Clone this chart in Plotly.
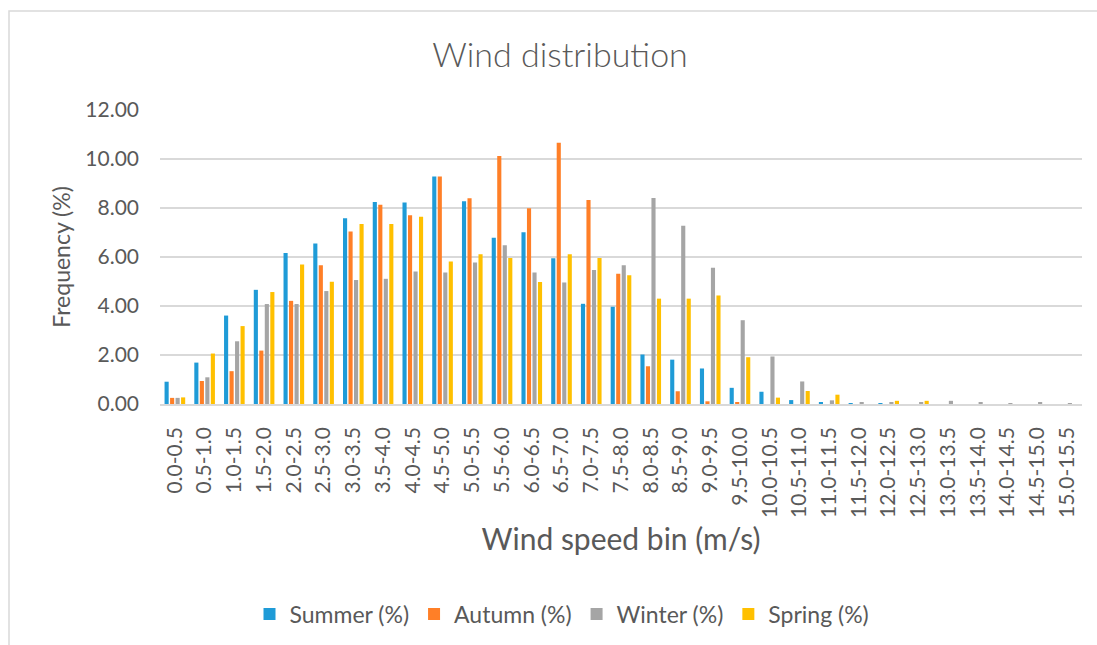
import plotly.graph_objects as go

# Wind speed bins (m/s)
bins = ["0.0-0.5", "0.5-1.0", "1.0-1.5", "1.5-2.0", "2.0-2.5", "2.5-3.0", "3.0-3.5",
        "3.5-4.0", "4.0-4.5", "4.5-5.0", "5.0-5.5", "5.5-6.0", "6.0-6.5", "6.5-7.0",
        "7.0-7.5", "7.5-8.0", "8.0-8.5", "8.5-9.0", "9.0-9.5", "9.5-10.0", "10.0-10.5",
        "10.5-11.0", "11.0-11.5", "11.5-12.0", "12.0-12.5", "12.5-13.0", "13.0-13.5",
        "13.5-14.0", "14.0-14.5", "14.5-15.0", "15.0-15.5"]

# Seasonal frequency of each bin (%)
summer = [0.91, 1.69, 3.61, 4.66, 6.16, 6.55, 7.58, 8.24, 8.22, 9.29, 8.28, 6.79, 7.01, 5.95,
          4.09, 3.97, 2.02, 1.81, 1.45, 0.66, 0.50, 0.16, 0.05, 0.02, 0.02, 0, 0, 0, 0, 0, 0]
autumn = [0.25, 0.94, 1.34, 2.18, 4.21, 5.66, 7.04, 8.13, 7.70, 9.29, 8.40, 10.12, 7.99, 10.66,
          8.33, 5.32, 1.54, 0.52, 0.11, 0.05, 0, 0, 0, 0, 0, 0, 0, 0, 0, 0, 0]
winter = [0.25, 1.09, 2.56, 4.08, 4.08, 4.61, 5.06, 5.11, 5.41, 5.37, 5.78, 6.48, 5.37, 4.96,
          5.47, 5.66, 8.41, 7.28, 5.56, 3.42, 1.94, 0.92, 0.15, 0.05, 0.05, 0.06, 0.13, 0.07,
          0.02, 0.07, 0.02]
spring = [0.27, 2.06, 3.18, 4.57, 5.69, 4.99, 7.35, 7.35, 7.64, 5.82, 6.11, 5.96, 4.98, 6.11,
          5.96, 5.26, 4.30, 4.30, 4.43, 1.91, 0.26, 0.53, 0.38, 0, 0.13, 0.13, 0, 0, 0, 0, 0]

series = [
    ("Summer (%)", summer, "#1f9bd7"),
    ("Autumn (%)", autumn, "#ff7f27"),
    ("Winter (%)", winter, "#a5a5a5"),
    ("Spring (%)", spring, "#ffc000"),
]

FONT = "Lato"
TEXT = "#595959"
GRID = "#d9d9d9"

fig = go.Figure()
for name, vals, color in series:
    fig.add_trace(go.Bar(x=bins, y=vals, name=name, marker=dict(color=color, line=dict(width=0))))

W, H = 1097, 645
L, R, T, B = 160, 1082, 110, 404

def px_x(p):
    return (p - L) / (R - L)

def px_y(p):
    return (B - p) / (B - T)

fig.update_layout(
    width=W, height=H,
    margin=dict(l=L, r=W - R, t=T, b=H - B, autoexpand=False),
    paper_bgcolor="white", plot_bgcolor="white",
    font=dict(family=FONT, color=TEXT, size=21),
    barmode="group", bargap=0.26, bargroupgap=0.25,
    title=dict(text="Wind distribution", x=560 / W, xref="container", xanchor="center",
               y=1 - 55 / H, yref="container", yanchor="middle",
               font=dict(family=FONT, size=34, color=TEXT, weight=300)),
    legend=dict(orientation="h", xref="container", yref="container",
                x=562 / W, xanchor="center", y=1 - 614 / H, yanchor="middle",
                itemwidth=30, font=dict(size=23, color=TEXT), itemclick=False),
    xaxis=dict(
        type="category", tickangle=-90, ticks="", showgrid=False,
        showline=True, linecolor=GRID, linewidth=1.5,
        ticklabelstandoff=13,
        tickfont=dict(size=21, color=TEXT),
        title=dict(text="Wind speed bin (m/s)", font=dict(size=30, color=TEXT), standoff=12),
    ),
    yaxis=dict(
        range=[0, 12], dtick=2, tickformat=".2f", ticks="",
        showgrid=True, gridcolor=GRID, gridwidth=1.5, zeroline=False,
        showline=False, ticklabelstandoff=20,
        tickfont=dict(size=21, color=TEXT),
        title=dict(text="Frequency (%)", font=dict(size=23, color=TEXT), standoff=8),
    ),
    shapes=[dict(type="rect", xref="paper", yref="paper",
                 x0=px_x(9), x1=px_x(W + 20), y0=px_y(H + 20), y1=px_y(11),
                 line=dict(color=GRID, width=1.5), fillcolor="rgba(0,0,0,0)", layer="below")],
)

fig.write_html("out.html")
